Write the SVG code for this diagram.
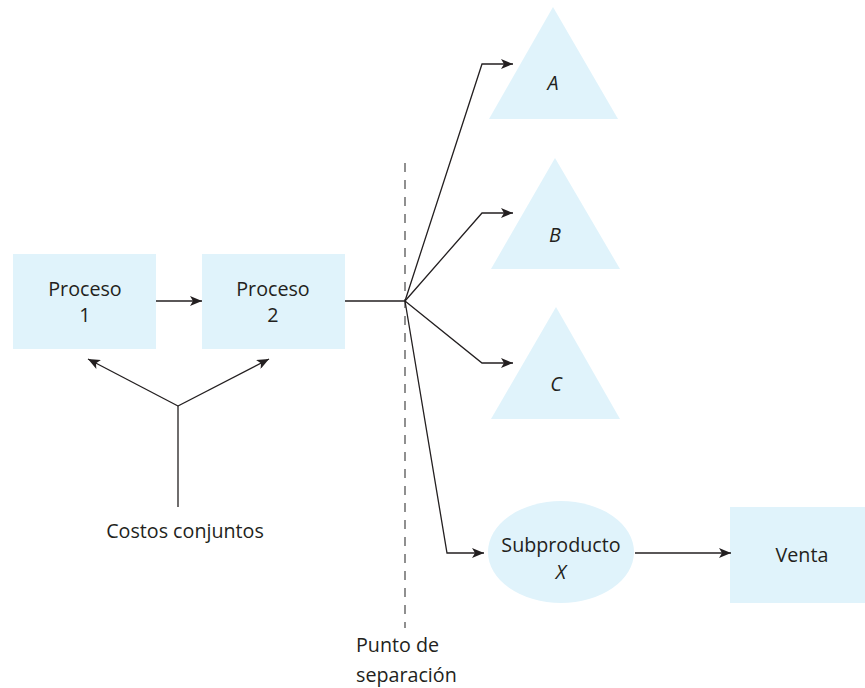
<svg xmlns="http://www.w3.org/2000/svg" width="865" height="688" viewBox="0 0 865 688">
<style>
.box{fill:#e0f3fb;stroke:none}
.t{font-family:"Open Sans","Noto Sans",sans-serif;font-size:19.7px;fill:#231f20;text-anchor:middle}
.i{font-style:italic}
.c{fill:none;stroke:#231f20;stroke-width:1.3}
.d{fill:none;stroke:#555;stroke-width:1.3;stroke-dasharray:9 8}
</style>
<defs>
<marker id="ah" viewBox="0 0 12 10" refX="12" refY="5" markerWidth="12" markerHeight="10" markerUnits="userSpaceOnUse" orient="auto">
<path d="M0,0 L12,5 L0,10 L3,5 z" fill="#231f20"/>
</marker>
</defs>
<g id="proceso1"><rect class="box" x="13" y="254" width="143" height="95"/><text class="t" x="85" y="296">Proceso</text><text class="t" x="85" y="322">1</text></g>
<g id="proceso2"><rect class="box" x="202" y="254" width="143" height="95"/><text class="t" x="273" y="296">Proceso</text><text class="t" x="273" y="322">2</text></g>
<g id="A"><polygon class="box" points="553,7 489,119 618,119"/><text class="t i" x="553" y="90">A</text></g>
<g id="B"><polygon class="box" points="555,158 491,269 620,269"/><text class="t i" x="555" y="242">B</text></g>
<g id="C"><polygon class="box" points="556,307 491,419 620,419"/><text class="t i" x="556" y="391">C</text></g>
<g id="subproducto"><ellipse class="box" cx="561" cy="552" rx="73" ry="51"/><text class="t" x="561" y="552">Subproducto</text><text class="t i" x="561" y="579">X</text></g>
<g id="venta"><rect class="box" x="730" y="507" width="135" height="96"/><text class="t" x="802" y="562">Venta</text></g>
<g id="costos"><text class="t" x="185" y="538">Costos conjuntos</text></g>
<g id="punto"><line class="d" x1="405" y1="163" x2="405" y2="628"/><text class="t" x="356" y="652" style="text-anchor:start">Punto de</text><text class="t" x="356" y="682" style="text-anchor:start">separación</text></g>
<g id="connectors">
<line class="c" x1="156" y1="301" x2="202" y2="301" marker-end="url(#ah)"/>
<polyline class="c" points="345,301 405,301"/>
<polyline class="c" points="405,301 482,64 513,64" marker-end="url(#ah)"/>
<polyline class="c" points="405,301 482,213 513,213" marker-end="url(#ah)"/>
<polyline class="c" points="405,301 482,363 513,363" marker-end="url(#ah)"/>
<polyline class="c" points="405,301 447,553 484,553" marker-end="url(#ah)"/>
<line class="c" x1="635" y1="553" x2="731" y2="553" marker-end="url(#ah)"/>
<line class="c" x1="178" y1="507" x2="178" y2="406"/>
<line class="c" x1="178" y1="406" x2="88" y2="359" marker-end="url(#ah)"/>
<line class="c" x1="178" y1="406" x2="269" y2="359" marker-end="url(#ah)"/>
</g>
</svg>
